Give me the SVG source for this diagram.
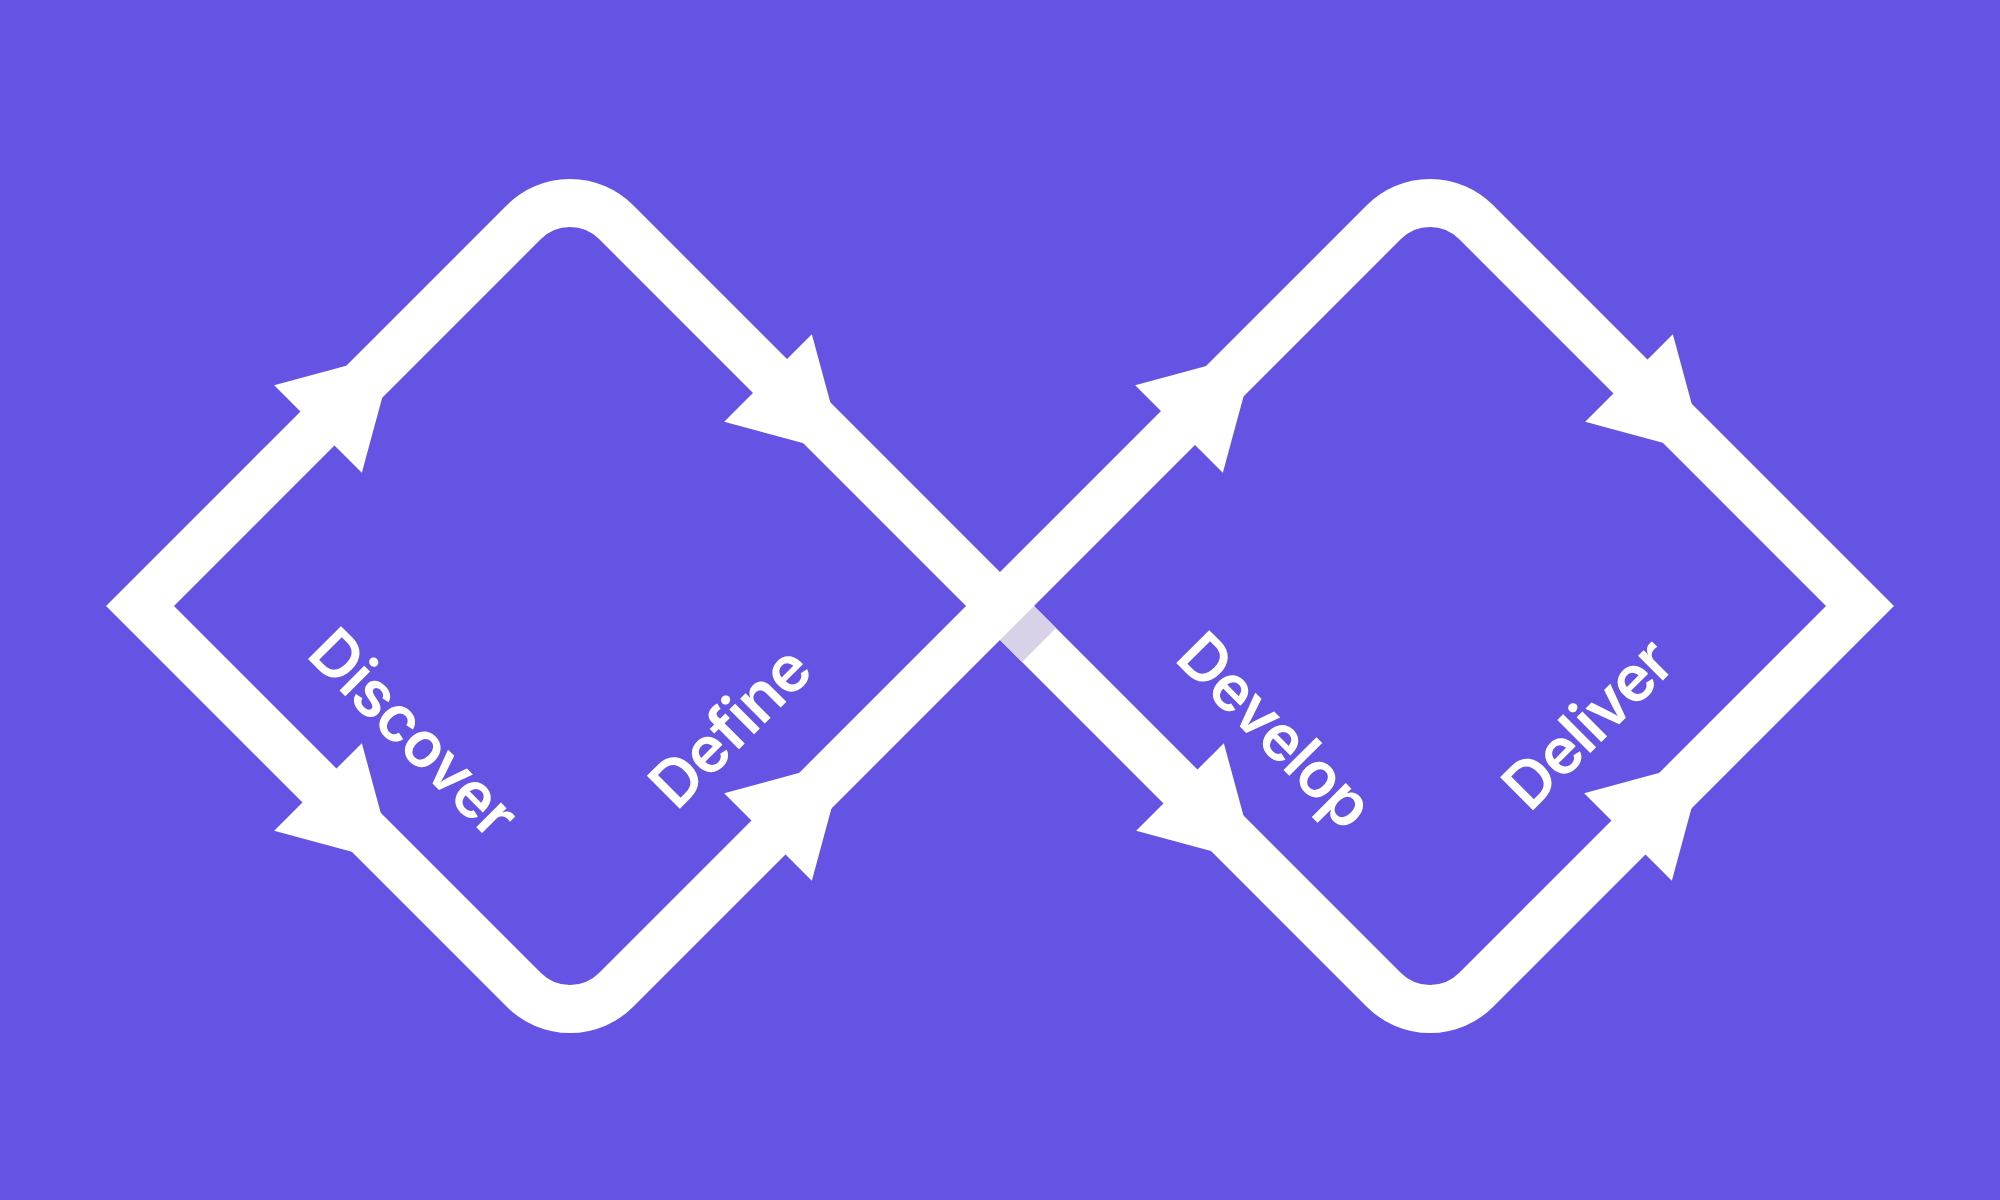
<svg xmlns="http://www.w3.org/2000/svg" xmlns:xlink="http://www.w3.org/1999/xlink" width="2000" height="1200" viewBox="0 0 2000 1200">
  <style>
    .loop { fill: none; stroke: #FFFFFF; stroke-width: 48; stroke-linejoin: miter; stroke-miterlimit: 4; }
    .head { fill: #FFFFFF; }
    .label { font-family: Inter, "Open Sans", "Liberation Sans", sans-serif; font-size: 64px; font-weight: 600; letter-spacing: -1.3px; fill: #FFFFFF; }
    .under { fill: #D9D1E8; }
  </style>
  <defs>
    <polygon id="arrowhead" class="head" points="0,-62 108,0 0,62"/>
  </defs>
  <rect x="0" y="0" width="2000" height="1200" fill="#6554E3"/>
  <g id="connectors">
    <path class="loop" d="M 1000 606 L 616 222 A 65 65 0 0 0 524 222 L 140 606 L 524 990 A 65 65 0 0 0 616 990 L 1000 606 L 1384 222 A 65 65 0 0 1 1476 222 L 1860 606 L 1476 990 A 65 65 0 0 1 1384 990 L 1000 606"/>
    <polygon class="under" points="1000,640 1034,606 1056,628 1022,662"/>
    <use xlink:href="#arrowhead" href="#arrowhead" transform="translate(318 429) rotate(-45)"/>
    <use xlink:href="#arrowhead" href="#arrowhead" transform="translate(768 378) rotate(45)"/>
    <use xlink:href="#arrowhead" href="#arrowhead" transform="translate(318 787) rotate(45)"/>
    <use xlink:href="#arrowhead" href="#arrowhead" transform="translate(768 837) rotate(-45)"/>
    <use xlink:href="#arrowhead" href="#arrowhead" transform="translate(1179 429) rotate(-45)"/>
    <use xlink:href="#arrowhead" href="#arrowhead" transform="translate(1629 378) rotate(45)"/>
    <use xlink:href="#arrowhead" href="#arrowhead" transform="translate(1180 787) rotate(45)"/>
    <use xlink:href="#arrowhead" href="#arrowhead" transform="translate(1628 837) rotate(-45)"/>
  </g>
  <g id="discover">
    <text class="label" transform="translate(304.7 655.7) rotate(45)" x="0" y="0">Discover</text>
  </g>
  <g id="define">
    <text class="label" transform="translate(676.4 811.9) rotate(-45)" x="0" y="0">Define</text>
  </g>
  <g id="develop">
    <text class="label" transform="translate(1173.1 659.7) rotate(45)" x="0" y="0">Develop</text>
  </g>
  <g id="deliver">
    <text class="label" transform="translate(1529.7 813.6) rotate(-45)" x="0" y="0">Deliver</text>
  </g>
</svg>
